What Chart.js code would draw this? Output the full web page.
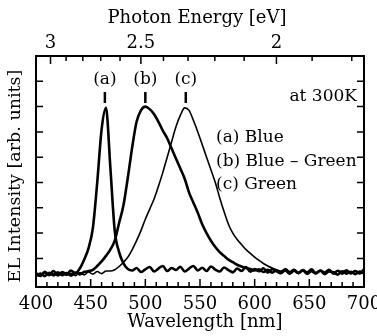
<!DOCTYPE html>
<html>
<head>
<meta charset="utf-8">
<script src="https://cdn.jsdelivr.net/npm/chart.js@4.4.1/dist/chart.umd.min.js"></script>
<style>
  html, body { margin: 0; padding: 0; background: #fff; }
</style>
</head>
<body>
<canvas id="el" width="377" height="336"></canvas>
<script>
// EL spectra (arb. units)
const wavelength = [400, 404, 408, 412, 416, 420, 424, 428, 432, 436, 440, 444, 448, 452, 456, 460,
  464, 468, 472, 476, 480, 484, 488, 492, 496, 500, 504, 508, 512, 516, 520, 524, 528, 532, 536, 540,
  544, 548, 552, 556, 560, 564, 568, 572, 576, 580, 584, 588, 592, 596, 600, 604, 608, 612, 616, 620,
  624, 628, 632, 636, 640, 644, 648, 652, 656, 660, 664, 668, 672, 676, 680, 684, 688, 692, 696, 700];

const blue = [0.42, 0.31, 0.47, 0.36, 0.50, 0.34, 0.46, 0.38, 0.52, 0.41, 0.60, 0.95, 1.4, 2.2, 4.0, 6.1,
  6.95, 4.6, 2.1, 1.25, 0.80, 0.58, 0.52, 0.62, 0.46, 0.57, 0.66, 0.48, 0.60, 0.70, 0.50, 0.62, 0.54, 0.67, 0.48, 0.60,
  0.70, 0.52, 0.63, 0.50, 0.68, 0.56, 0.48, 0.64, 0.54, 0.45, 0.60, 0.50, 0.66, 0.47, 0.58, 0.49, 0.61, 0.44, 0.57, 0.49,
  0.42, 0.58, 0.46, 0.55, 0.43, 0.54, 0.45, 0.57, 0.42, 0.52, 0.44, 0.55, 0.40, 0.51, 0.43, 0.53, 0.41, 0.50, 0.42, 0.57];

const blueGreen = [0.30, 0.40, 0.30, 0.43, 0.33, 0.45, 0.34, 0.42, 0.32, 0.44, 0.37, 0.46, 0.50, 0.55, 0.70, 0.88,
  1.1, 1.35, 1.7, 2.4, 3.1, 4.2, 5.4, 6.4, 6.85, 7.0, 6.9, 6.7, 6.4, 6.05, 5.75, 5.35, 4.95, 4.55, 4.15, 3.6,
  3.2, 2.8, 2.35, 2.0, 1.7, 1.45, 1.25, 1.1, 0.95, 0.85, 0.75, 0.68, 0.62, 0.58, 0.52, 0.57, 0.46, 0.55, 0.44, 0.53,
  0.43, 0.52, 0.40, 0.51, 0.42, 0.52, 0.39, 0.49, 0.41, 0.51, 0.38, 0.48, 0.45, 0.36, 0.49, 0.40, 0.47, 0.38, 0.48, 0.40];

const green = [0.36, 0.29, 0.42, 0.32, 0.40, 0.31, 0.43, 0.33, 0.41, 0.32, 0.44, 0.35, 0.46, 0.38, 0.48, 0.40,
  0.50, 0.50, 0.55, 0.68, 0.85, 1.05, 1.35, 1.7, 2.1, 2.55, 2.95, 3.35, 3.85, 4.4, 5.0, 5.6, 6.2, 6.65, 6.95, 6.85,
  6.45, 6.0, 5.5, 5.0, 4.5, 4.0, 3.4, 2.85, 2.35, 2.0, 1.75, 1.55, 1.35, 1.2, 1.05, 0.92, 0.80, 0.70, 0.62, 0.55,
  0.50, 0.56, 0.45, 0.54, 0.43, 0.52, 0.41, 0.51, 0.42, 0.50, 0.39, 0.49, 0.41, 0.51, 0.38, 0.48, 0.40, 0.49, 0.39, 0.47];

// axes
const nmTicks = [400, 450, 500, 550, 600, 650, 700];
const eVTicks = [3, 2.5, 2];
const eVMinor = [2.9, 2.8, 2.7, 2.6, 2.4, 2.3, 2.2, 2.1, 1.9, 1.8];
const intensityTicks = [1, 2, 3, 4, 5, 6, 7, 8];

// annotations
const peakNm = [463, 500, 537];
const peakTags = ["(a)", "(b)", "(c)"];
const legendLines = ["(a) Blue", "(b) Blue \u2013 Green", "(c) Green"];

const SERIF = '"DejaVu Serif", "Liberation Serif", serif';
const eV = e => 1239.84 / e;

// inward ticks, frame and all the text
const decor = {
  id: "decor",
  afterDatasetsDraw(chart) {
    const { ctx, chartArea: a, scales: { x, y } } = chart;
    ctx.save();
    ctx.strokeStyle = "#000";
    ctx.fillStyle = "#000";

    ctx.lineWidth = 1.5;
    ctx.beginPath();
    for (let nm = 400; nm <= 700; nm += 10) {
      const px = x.getPixelForValue(nm);
      const len = nm % 50 === 0 ? 8 : 5;
      ctx.moveTo(px, a.bottom); ctx.lineTo(px, a.bottom - len);
    }
    eVTicks.forEach(e => {
      const px = x.getPixelForValue(eV(e));
      ctx.moveTo(px, a.top); ctx.lineTo(px, a.top + 8);
    });
    eVMinor.forEach(e => {
      const px = x.getPixelForValue(eV(e));
      ctx.moveTo(px, a.top); ctx.lineTo(px, a.top + 5);
    });
    intensityTicks.forEach(v => {
      const py = y.getPixelForValue(v);
      ctx.moveTo(a.left, py); ctx.lineTo(a.left + 7, py);
      ctx.moveTo(a.right, py); ctx.lineTo(a.right - 7, py);
    });
    ctx.stroke();

    ctx.lineWidth = 2;
    ctx.strokeRect(a.left, a.top, a.right - a.left, a.bottom - a.top);

    ctx.textAlign = "center";
    ctx.textBaseline = "middle";
    ctx.font = "18px " + SERIF;
    nmTicks.forEach(nm => ctx.fillText(String(nm), x.getPixelForValue(nm), 304));
    eVTicks.forEach(e => ctx.fillText(String(e), x.getPixelForValue(eV(e)), 43));
    ctx.fillText("Wavelength [nm]", (a.left + a.right) / 2 + 5, 322);
    ctx.fillText("Photon Energy [eV]", 197, 18);

    ctx.save();
    ctx.font = "17.5px " + SERIF;
    ctx.translate(15, 176);
    ctx.rotate(-Math.PI / 2);
    ctx.fillText("EL Intensity [arb. units]", 0, 0);
    ctx.restore();

    // peak markers
    ctx.font = "17px " + SERIF;
    ctx.lineWidth = 2.5;
    peakNm.forEach((nm, i) => {
      const px = x.getPixelForValue(nm);
      ctx.fillText(peakTags[i], px, 80);
      ctx.beginPath();
      ctx.moveTo(px, 92); ctx.lineTo(px, 103);
      ctx.stroke();
    });

    ctx.textAlign = "right";
    ctx.fillText("at 300K", 357, 97);

    ctx.textAlign = "left";
    legendLines.forEach((t, i) => ctx.fillText(t, 216, 138 + i * 23.5));
    ctx.restore();
  }
};

const line = (data, w) => ({
  data,
  borderColor: "#000",
  borderWidth: w,
  pointRadius: 0,
  fill: false,
  cubicInterpolationMode: "monotone"
});

new Chart(document.getElementById("el"), {
  type: "line",
  data: {
    labels: wavelength,
    datasets: [line(blue, 2.6), line(blueGreen, 2.6), line(green, 1.6)]
  },
  options: {
    responsive: false,
    animation: false,
    layout: { padding: { left: 36, right: 13, top: 56, bottom: 49 } },
    plugins: { legend: { display: false }, tooltip: { enabled: false } },
    scales: {
      x: { type: "linear", min: 400, max: 700, display: false },
      y: { min: -0.13, max: 9.0, display: false }
    }
  },
  plugins: [decor]
});
</script>
</body>
</html>
